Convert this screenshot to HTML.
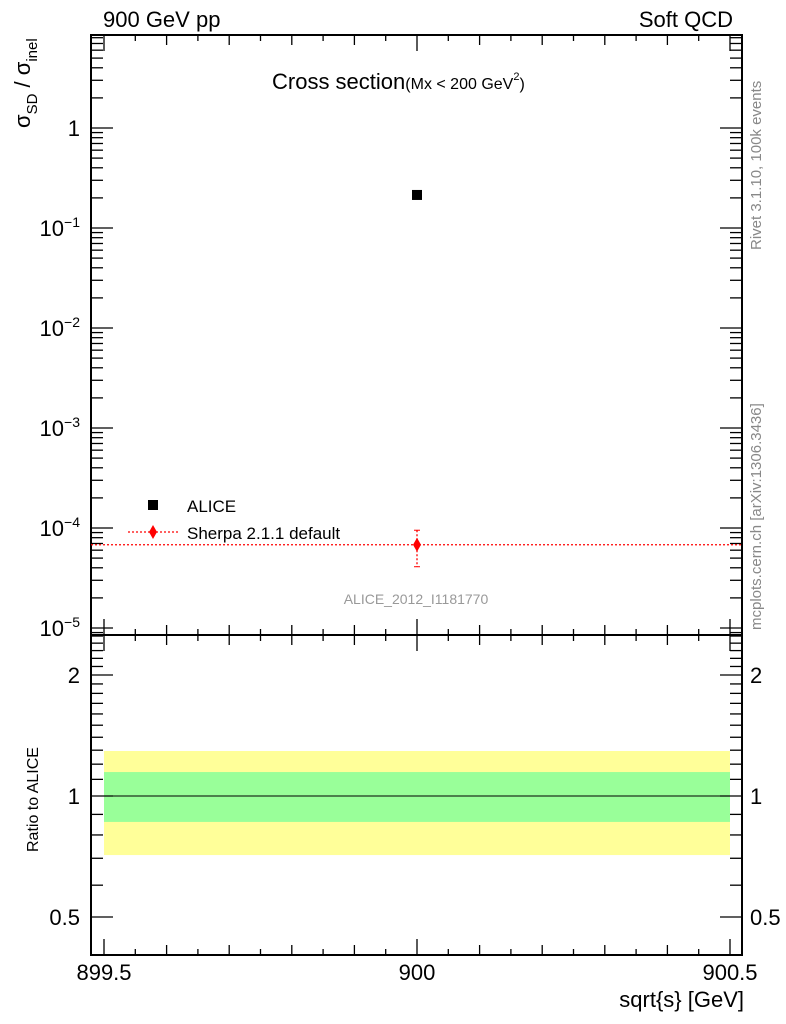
<!DOCTYPE html>
<html><head><meta charset="utf-8"><style>
body{margin:0;background:#fff}
svg{display:block;font-family:"Liberation Sans",sans-serif}
</style></head><body>
<svg id="c" width="786" height="1024" viewBox="0 0 786 1024"></svg>
<script>
const categories=[900.0];
const aliceValues=[0.214];
const sherpaValues=[6.8e-5];
const sherpaErrUp=[9.5e-5];
const sherpaErrDown=[4.1e-5];
const ratioBandOuter=[1.294,0.713];
const ratioBandInner=[1.147,0.862];
const xTickLabels=["899.5","900","900.5"];
const yMainTickLabels=["1","10⁻¹","10⁻²","10⁻³","10⁻⁴","10⁻⁵"];
const yRatioTickLabels=["2","1","0.5"];

const NS="http://www.w3.org/2000/svg";
const svg=document.getElementById('c');
const L=91,R=742,T=35,M=635,B=955;
const X=v=>104+(v-899.5)*626;
const Y=v=>128-Math.log10(v)*100;
const YR=v=>796-Math.log10(v)*402;
function el(t,a,p){const e=document.createElementNS(NS,t);for(const k in a)e.setAttribute(k,a[k]);(p||svg).appendChild(e);return e;}
function txt(s,a){const e=el('text',a);e.textContent=s;return e;}

// ratio bands
let r=el('rect',{x:X(899.5),y:YR(ratioBandOuter[0]),width:X(900.5)-X(899.5),height:YR(ratioBandOuter[1])-YR(ratioBandOuter[0]),fill:'#ffff99'});

r=el('rect',{x:X(899.5),y:YR(ratioBandInner[0]),width:X(900.5)-X(899.5),height:YR(ratioBandInner[1])-YR(ratioBandInner[0]),fill:'#99ff99'});

r=el('line',{x1:L,x2:R,y1:YR(1),y2:YR(1),stroke:'#000','stroke-width':1});


// frames
r=el('rect',{x:L,y:T,width:R-L,height:M-T,fill:'none',stroke:'#000','stroke-width':2});

r=el('rect',{x:L,y:M,width:R-L,height:B-M,fill:'none',stroke:'#000','stroke-width':2});


// x ticks
for(let i=0;i<=20;i++){const v=899.5+i*0.05;const x=X(v);
 const len=(i%10===0)?16:(i%2===0?10:6);
 [[T,1],[M,-1],[M,1],[B,-1]].forEach(([y0,d])=>{el('line',{x1:x,x2:x,y1:y0,y2:y0+d*len,stroke:'#000','stroke-width':1.3});});}
xTickLabels.forEach((s,i)=>{const t=txt(s,{x:X(899.5+i*0.5),y:980,'font-size':22,'text-anchor':'middle'});
 });

// main y ticks (log)
for(let d=-6;d<=0;d++){for(let m=1;m<=9;m++){const v=m*Math.pow(10,d);const y=Y(v);
 if(y<T||y>M)continue;const len=m===1?22:12;
 el('line',{x1:L,x2:L+len,y1:y,y2:y,stroke:'#000','stroke-width':1.3});
 el('line',{x1:R,x2:R-len,y1:y,y2:y,stroke:'#000','stroke-width':1.3});}}
yMainTickLabels.forEach((s,i)=>{const y=Y(Math.pow(10,-i));
 let t;
 if(i===0){t=txt('1',{x:80,y:y+8,'font-size':22,'text-anchor':'end'});}
 else{t=el('text',{x:80,y:y+8,'font-size':22,'text-anchor':'end'});
  const a=el('tspan',{},t);a.textContent='10';const b=el('tspan',{dy:-9,'font-size':14},t);b.textContent='−'+i;}
 });

// ratio y ticks
for(let k=4;k<=25;k++){const v=k/10;const y=YR(v);if(y<M||y>B)continue;
 const len=(k===5||k===10||k===20)?22:12;
 el('line',{x1:L,x2:L+len,y1:y,y2:y,stroke:'#000','stroke-width':1.3});
 el('line',{x1:R,x2:R-len,y1:y,y2:y,stroke:'#000','stroke-width':1.3});}
yRatioTickLabels.forEach(s=>{const y=YR(parseFloat(s))+8;
 let t=txt(s,{x:80,y:y,'font-size':22,'text-anchor':'end'});
 
 t=txt(s,{x:750,y:y,'font-size':22});
 });

// sherpa
let s=el('line',{x1:L,x2:R,y1:Y(sherpaValues[0]),y2:Y(sherpaValues[0]),stroke:'#f00','stroke-width':1.3,'stroke-dasharray':'2,2'});

categories.forEach((c,i)=>{const x=X(c),y=Y(sherpaValues[i]);
 let e=el('line',{x1:x,x2:x,y1:Y(sherpaErrUp[i]),y2:Y(sherpaErrDown[i]),stroke:'#f00','stroke-width':1.3,'stroke-dasharray':'2,2'});
 
 el('line',{x1:x-3,x2:x+3,y1:Y(sherpaErrUp[i]),y2:Y(sherpaErrUp[i]),stroke:'#f00'});
 el('line',{x1:x-3,x2:x+3,y1:Y(sherpaErrDown[i]),y2:Y(sherpaErrDown[i]),stroke:'#f00'});
 e=el('polygon',{points:`${x},${y-7} ${x+4},${y} ${x},${y+7} ${x-4},${y}`,fill:'#f00'});
 
 const a=Y(aliceValues[i]);
 e=el('rect',{x:x-5,y:a-5,width:10,height:10,fill:'#000'});
 });

// legend
let g=el('g',{});
el('rect',{x:148,y:500,width:10,height:10,fill:'#000'},g);
let t=el('text',{x:187,y:512,'font-size':17},g);t.textContent='ALICE';
el('line',{x1:128,x2:178,y1:532,y2:532,stroke:'#f00','stroke-width':1.3,'stroke-dasharray':'2,2'},g);
el('polygon',{points:'153,525 157,532 153,539 149,532',fill:'#f00'},g);
t=el('text',{x:187,y:539,'font-size':17},g);t.textContent='Sherpa 2.1.1 default';

// labels
t=txt('900 GeV pp',{x:103,y:27,'font-size':22});
t=txt('Soft QCD',{x:733,y:27,'font-size':22,'text-anchor':'end'});
t=el('text',{x:272,y:89,'font-size':22});
t.innerHTML='Cross section<tspan font-size="16">(Mx &lt; 200 GeV</tspan><tspan font-size="11" dy="-9">2</tspan><tspan font-size="16" dy="9">)</tspan>';
t=txt('ALICE_2012_I1181770',{x:416,y:604,'font-size':14,fill:'#999','text-anchor':'middle'});
t=el('text',{transform:'translate(30,128) rotate(-90)','font-size':22,'text-anchor':'start'});
t.innerHTML='σ<tspan font-size="15" dy="7">SD</tspan><tspan dy="-7"> / σ</tspan><tspan font-size="15" dy="7">inel</tspan>';
t=txt('Ratio to ALICE',{transform:'translate(38,852) rotate(-90)','font-size':16});
t=txt('sqrt{s} [GeV]',{x:744,y:1007,'font-size':22,'text-anchor':'end'});
t=txt('Rivet 3.1.10,  100k events',{transform:'translate(761,250) rotate(-90)','font-size':15,fill:'#888'});
t=txt('mcplots.cern.ch [arXiv:1306.3436]',{transform:'translate(761,630) rotate(-90)','font-size':15,fill:'#888'});
</script>
</body></html>
